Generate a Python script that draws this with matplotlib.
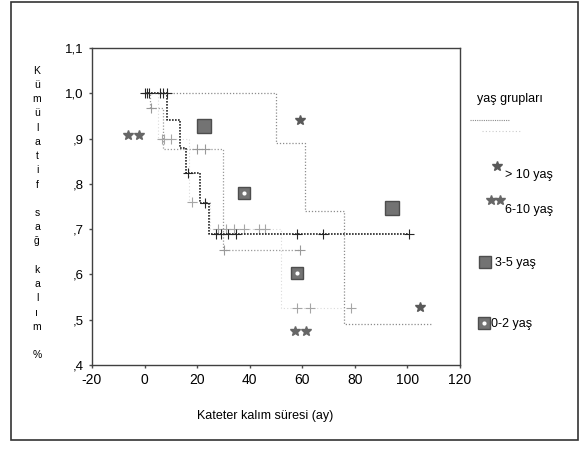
import numpy as np
import matplotlib
matplotlib.use("Agg")
import matplotlib.pyplot as plt
from matplotlib.patches import Rectangle
from matplotlib.lines import Line2D

plt.rcParams['font.family'] = ['Liberation Sans', 'DejaVu Sans']
plt.rcParams['axes.unicode_minus'] = False

# Kaplan-Meier steps per age group (time in months, cumulative survival)
t_gt10 = [0, 50, 61, 76, 109]
s_gt10 = [1.0, 0.89, 0.74, 0.49, 0.49]
c_gt10 = []

t_6_10 = [0, 2, 7, 30, 59]
s_6_10 = [1.0, 0.967, 0.877, 0.655, 0.655]
c_6_10 = [2.6, 20, 23, 30.2, 59]

t_3_5 = [0, 8.7, 13.3, 15.8, 21, 24.7, 101]
s_3_5 = [1.0, 0.94, 0.88, 0.825, 0.758, 0.69, 0.69]
c_3_5 = [0.3, 1, 1.8, 6, 7.2, 8.5, 16.7, 22.9, 27, 29, 31.7, 34.8, 58, 68, 100.5]

t_0_2 = [0, 5, 17, 25, 52, 79]
s_0_2 = [1.0, 0.90, 0.76, 0.70, 0.525, 0.525]
c_0_2 = [6.5, 7.5, 10, 18, 28, 31, 34, 38, 43.5, 46, 58, 63, 78.5]

# group symbols placed inside the plot
star1_x = [59.2, 104.7]
star1_y = [0.941, 0.528]
star2_x = [-6.2, -2.0, 57.3, 61.6]
star2_y = [0.908, 0.908, 0.474, 0.474]
sq_x = [22.5, 94]
sq_y = [0.928, 0.747]
sqdot_x = [37.8, 58]
sqdot_y = [0.78, 0.603]

x_ticks = [-20, 0, 20, 40, 60, 80, 100, 120]
y_ticks = [0.4, 0.5, 0.6, 0.7, 0.8, 0.9, 1.0, 1.1]
y_labels = [',4', ',5', ',6', ',7', ',8', ',9', '1,0', '1,1']


def surv_at(times, surv, c):
    idx = np.searchsorted(times, c, side='right') - 1
    return np.array(surv)[idx]


fig = plt.figure(figsize=(5.82, 4.5), dpi=100)
ax = fig.add_axes([92 / 582, 1 - 365 / 450, (460 - 92) / 582, (365 - 48) / 450])

groups = [
    (t_gt10, s_gt10, c_gt10, '0.55', (0, (1, 1.5)), 0.9),
    (t_6_10, s_6_10, c_6_10, '0.6', (0, (1, 1.5)), 0.9),
    (t_0_2, s_0_2, c_0_2, '0.86', (0, (1, 2)), 0.8),
    (t_3_5, s_3_5, c_3_5, '0.15', (0, (1, 0.8)), 1.2),
]
for t, s, c, col, ls, lw in groups:
    ax.step(t, s, where='post', color=col, linestyle=ls, linewidth=lw)
    if c:
        mcol = col if col != '0.86' else '0.65'
        ax.plot(c, surv_at(t, s, c), linestyle='none', marker='+',
                markersize=7, markeredgewidth=0.8, color=mcol)

ax.plot(star1_x, star1_y, linestyle='none', marker='*', markersize=7.5, color='0.35')
ax.plot(star2_x, star2_y, linestyle='none', marker='*', markersize=7.5, color='0.4')
ax.plot(sq_x, sq_y, linestyle='none', marker='s', markersize=10,
        color='0.45', markeredgecolor='0.3')
ax.plot(sqdot_x, sqdot_y, linestyle='none', marker='s', markersize=8,
        color='0.45', markeredgecolor='0.3')
ax.plot(sqdot_x, sqdot_y, linestyle='none', marker='o', markersize=3,
        color='white', markeredgewidth=0)

ax.set_xlim(-20, 120)
ax.set_ylim(0.4, 1.1)
ax.set_xticks(x_ticks)
ax.set_yticks(y_ticks)
ax.set_yticklabels(y_labels)
ax.tick_params(direction='out', length=2.5, width=1, labelsize=10, color='0.3')
ax.tick_params(axis='y', labelsize=9.5)
for sp in ax.spines.values():
    sp.set_linewidth(1)
    sp.set_color('0.25')

ax.set_xlabel('Kateter kalım süresi (ay)', fontsize=9, labelpad=16, x=0.47)

# vertical y label, one letter per line
ylab = '\n'.join(list('Kümülatif')) + '\n\n' + '\n'.join(list('sağ')) + '\n\n' + \
       '\n'.join(list('kalım')) + '\n\n%'
fig.text(37 / 582, 1 - 213 / 450, ylab, fontsize=7.5, ha='center', va='center',
         linespacing=1.53)

# legend on the right
fig.text(477 / 582, 1 - 99 / 450, 'yaş grupları', fontsize=9, ha='left', va='center')
fig.add_artist(Line2D([470 / 582, 510 / 582], [1 - 120 / 450] * 2, color='0.55',
                      linestyle=(0, (1, 1)), linewidth=0.8, transform=fig.transFigure))
fig.add_artist(Line2D([482 / 582, 520 / 582], [1 - 131 / 450] * 2, color='0.8',
                      linestyle=(0, (1, 2)), linewidth=0.8, transform=fig.transFigure))

fig.add_artist(Line2D([497 / 582], [1 - 166 / 450], marker='*', markersize=7,
                      color='0.35', linestyle='none', transform=fig.transFigure))
fig.text(505 / 582, 1 - 175 / 450, '> 10 yaş', fontsize=9, ha='left', va='center')

fig.add_artist(Line2D([491 / 582, 500 / 582], [1 - 200 / 450] * 2, marker='*',
                      markersize=7, color='0.4', linestyle='none',
                      transform=fig.transFigure))
fig.text(505 / 582, 1 - 210 / 450, '6-10 yaş', fontsize=9, ha='left', va='center')

fig.add_artist(Line2D([485 / 582], [1 - 262 / 450], marker='s', markersize=9,
                      color='0.45', markeredgecolor='0.3', linestyle='none',
                      transform=fig.transFigure))
fig.text(495 / 582, 1 - 263 / 450, '3-5 yaş', fontsize=9, ha='left', va='center')

fig.add_artist(Line2D([484 / 582], [1 - 323 / 450], marker='s', markersize=8,
                      color='0.45', markeredgecolor='0.3', linestyle='none',
                      transform=fig.transFigure))
fig.add_artist(Line2D([484 / 582], [1 - 323 / 450], marker='o', markersize=3,
                      color='white', markeredgewidth=0, linestyle='none',
                      transform=fig.transFigure))
fig.text(491 / 582, 1 - 324 / 450, '0-2 yaş', fontsize=9, ha='left', va='center')

# outer frame
fig.add_artist(Rectangle((11 / 582, 1 - 440 / 450), (578 - 11) / 582, (440 - 2) / 450,
                         fill=False, edgecolor='0.2', linewidth=1.2,
                         transform=fig.transFigure))

fig.savefig('out.png', dpi=100)
